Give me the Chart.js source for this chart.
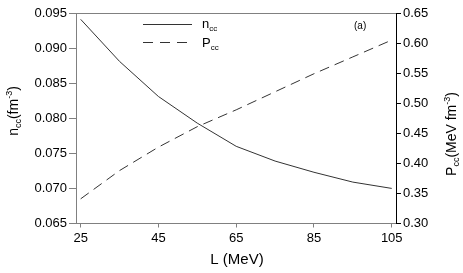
<!DOCTYPE html>
<html>
<head>
<meta charset="utf-8">
<script src="https://cdn.jsdelivr.net/npm/chart.js@4"></script>
<style>
    body { margin: 0; background: #fff; }
    #wrap { width: 463px; height: 273px; }
</style>
</head>
<body>
<div id="wrap"><canvas id="chart" width="463" height="273"></canvas></div>
<script>
// L (MeV) values
const lValues = [25, 35, 45, 55, 65, 75, 85, 95, 105];
// n_cc (fm^-3)
const nValues = [0.0941, 0.0881, 0.0831, 0.0793, 0.0760, 0.0739, 0.0723, 0.0709, 0.0700];
// P_cc (MeV fm^-3)
const pValues = [0.341, 0.388, 0.427, 0.461, 0.489, 0.519, 0.549, 0.577, 0.605];

const xTicks = [25, 45, 65, 85, 105];
const nTicks = [0.065, 0.070, 0.075, 0.080, 0.085, 0.090, 0.095];
const pTicks = [0.30, 0.35, 0.40, 0.45, 0.50, 0.55, 0.60, 0.65];

const FONT = 'Liberation Sans, Arial, sans-serif';
const LINE = '#333333';

// draw text with sub/superscripts, parts: [text, size, dy]
function drawRich(ctx, parts, x, y, align) {
    let total = 0;
    parts.forEach(p => {
        ctx.font = p[1] + 'px ' + FONT;
        total += ctx.measureText(p[0]).width;
    });
    let cx = align === 'center' ? x - total / 2 : x;
    ctx.textAlign = 'left';
    ctx.textBaseline = 'alphabetic';
    parts.forEach(p => {
        ctx.font = p[1] + 'px ' + FONT;
        ctx.fillText(p[0], cx, y + (p[2] || 0));
        cx += ctx.measureText(p[0]).width;
    });
}

const extrasPlugin = {
    id: 'extras',
    afterDraw(chart) {
        const ctx = chart.ctx;
        const area = chart.chartArea;
        ctx.save();

        // top frame line
        ctx.strokeStyle = '#808080';
        ctx.lineWidth = 1;
        ctx.beginPath();
        ctx.moveTo(area.left, area.top + 0.5);
        ctx.lineTo(area.right, area.top + 0.5);
        ctx.stroke();

        ctx.fillStyle = '#000';

        // x axis title
        ctx.font = '15px ' + FONT;
        ctx.textAlign = 'center';
        ctx.textBaseline = 'alphabetic';
        ctx.fillText('L (MeV)', 237, 264);

        // left axis title
        ctx.save();
        ctx.translate(18, 111);
        ctx.rotate(-Math.PI / 2);
        drawRich(ctx, [['n', 14], ['cc', 9, 3], ['(fm', 14], ['-3', 9, -6], [')', 14]], 0, 0, 'center');
        ctx.restore();

        // right axis title
        ctx.save();
        ctx.translate(456, 134);
        ctx.rotate(-Math.PI / 2);
        drawRich(ctx, [['P', 14], ['cc', 9, 3], ['(MeV fm', 14], ['-3', 9, -6], [')', 14]], 0, 0, 'center');
        ctx.restore();

        // legend
        ctx.strokeStyle = LINE;
        ctx.beginPath();
        ctx.moveTo(143, 24.5);
        ctx.lineTo(192, 24.5);
        ctx.stroke();
        ctx.setLineDash([10, 7]);
        ctx.beginPath();
        ctx.moveTo(143, 42.5);
        ctx.lineTo(192, 42.5);
        ctx.stroke();
        ctx.setLineDash([]);
        drawRich(ctx, [['n', 13], ['cc', 8, 3]], 202, 28);
        drawRich(ctx, [['P', 13], ['cc', 8, 3]], 202, 47);

        ctx.font = '10px ' + FONT;
        ctx.textAlign = 'left';
        ctx.fillText('(a)', 354, 29);

        ctx.restore();
    }
};

const ctx = document.getElementById('chart');
new Chart(ctx, {
    type: 'line',
    data: {
        labels: lValues,
        datasets: [{
            label: 'n_cc',
            data: lValues.map((l, i) => ({ x: l, y: nValues[i] })),
            yAxisID: 'y',
            borderColor: LINE,
            borderWidth: 1,
            pointRadius: 0,
            tension: 0,
            fill: false
        }, {
            label: 'P_cc',
            data: lValues.map((l, i) => ({ x: l, y: pValues[i] })),
            yAxisID: 'y1',
            borderColor: LINE,
            borderWidth: 1,
            borderDash: [10, 6],
            pointRadius: 0,
            tension: 0,
            fill: false
        }]
    },
    options: {
        responsive: false,
        animation: false,
        devicePixelRatio: 1,
        layout: { padding: { top: 13, left: 0, right: 0, bottom: 0 } },
        plugins: {
            legend: { display: false },
            tooltip: { enabled: false }
        },
        scales: {
            x: {
                type: 'linear',
                position: 'bottom',
                min: 23.8,
                max: 106.1,
                afterBuildTicks: function(scale) {
                    scale.ticks = xTicks.map(v => ({ value: v }));
                },
                afterFit: function(scale) { scale.height = 49.5; },
                grid: { drawOnChartArea: false, drawTicks: true, tickLength: 4, color: '#808080' },
                border: { color: '#808080' },
                ticks: {
                    color: '#000',
                    font: { family: FONT, size: 13 },
                    padding: 3,
                    maxRotation: 0,
                    callback: v => String(v)
                }
            },
            y: {
                position: 'left',
                min: 0.065,
                max: 0.095,
                afterBuildTicks: function(scale) {
                    scale.ticks = nTicks.map(v => ({ value: v }));
                },
                afterFit: function(scale) { scale.width = 76; },
                grid: { drawOnChartArea: false, drawTicks: true, tickLength: 7, color: '#808080' },
                border: { color: '#808080' },
                ticks: {
                    color: '#000',
                    font: { family: FONT, size: 13 },
                    padding: 2,
                    callback: v => v.toFixed(3)
                }
            },
            y1: {
                position: 'right',
                min: 0.30,
                max: 0.65,
                afterBuildTicks: function(scale) {
                    scale.ticks = pTicks.map(v => ({ value: v }));
                },
                afterFit: function(scale) { scale.width = 67; },
                grid: { drawOnChartArea: false, drawTicks: true, tickLength: 5, color: '#000' },
                border: { color: '#000' },
                ticks: {
                    color: '#000',
                    font: { family: FONT, size: 13 },
                    padding: 2,
                    callback: v => v.toFixed(2)
                }
            }
        }
    },
    plugins: [extrasPlugin]
});
</script>
</body>
</html>
